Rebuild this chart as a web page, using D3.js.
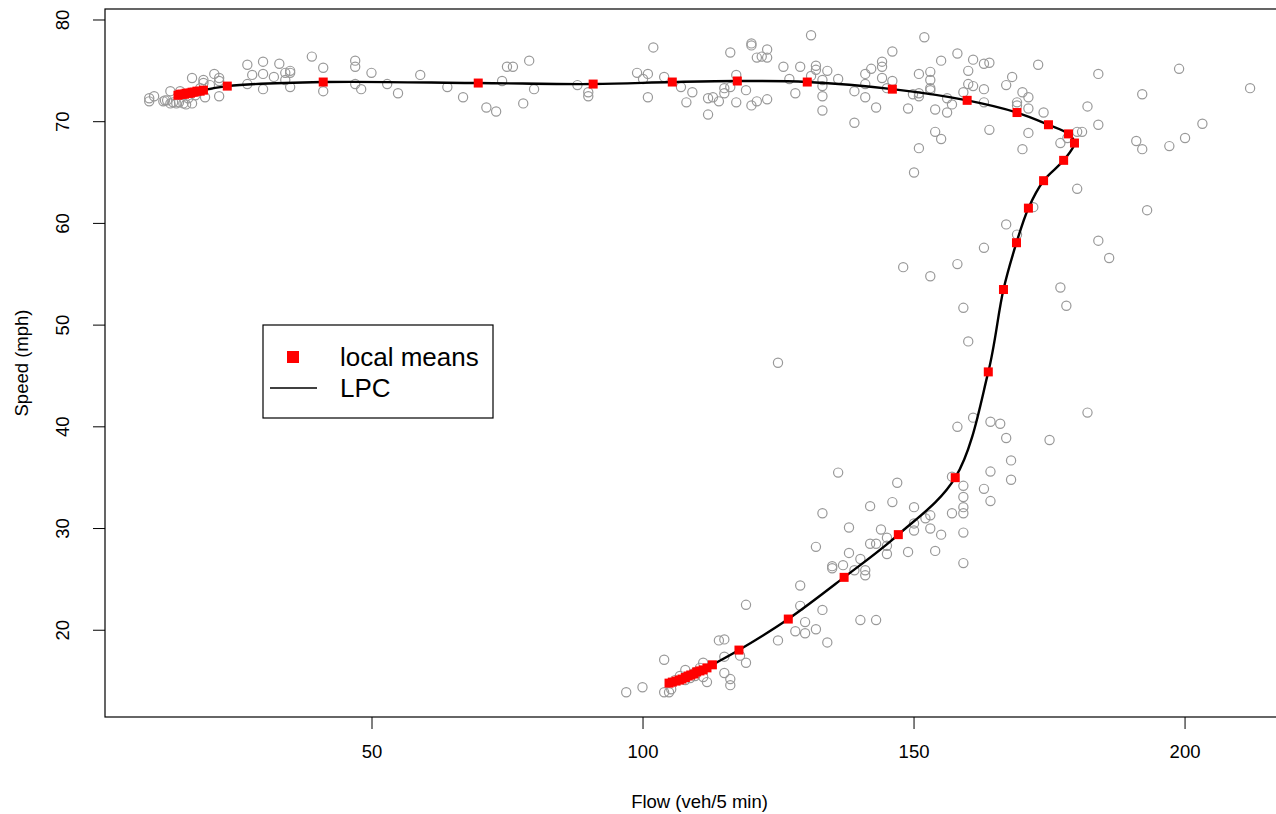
<!DOCTYPE html>
<html>
<head>
<meta charset="utf-8">
<script src="https://cdn.jsdelivr.net/npm/d3@7"></script>
<style>
  body { margin: 0; background: #fff; }
  text { font-family: "Liberation Sans", Arial, sans-serif; fill: #000; }
</style>
</head>
<body>
<div id="chart"></div>
<script>
// observed traffic: flow (veh/5 min) and speed (mph)
var flow = [
  8.9, 8.9, 9.8, 11.8, 12.2, 12.8, 11.5, 12.8, 13.3, 13.9,
  14.4, 15.2, 15.7, 14.6, 16.8, 16.8, 18.9, 18.9, 20.9, 21.8,
  21.8, 21.8, 20.1, 18.3, 17.4, 19.2, 16.1, 27.0, 27.9, 27.0,
  29.9, 29.9, 29.9, 31.9, 32.9, 34.0, 34.9, 34.9, 34.0, 34.9,
  38.9, 41.0, 41.0, 46.9, 46.9, 46.9, 48.0, 49.9, 52.8, 54.8,
  58.9, 63.9, 66.8, 71.1, 72.9, 74.0, 74.9, 76.0, 77.9, 79.0,
  79.9, 87.9, 89.9, 89.9, 98.9, 100.0, 100.9, 100.9, 101.9, 103.9,
  107.0, 109.1, 108.0, 112.0, 112.9, 114.0, 112.0, 115.0, 115.0, 116.1,
  116.1, 117.2, 117.2, 119.0, 120.0, 120.0, 121.0, 121.9, 122.9, 122.9,
  120.0, 121.0, 122.9, 125.9, 127.0, 128.1, 129.0, 131.0, 131.9, 131.9,
  131.0, 133.1, 133.1, 133.1, 133.1, 134.0, 136.0, 139.0, 139.0, 141.0,
  142.1, 141.0, 141.0, 143.0, 144.1, 144.1, 144.1, 146.0, 146.0, 145.0,
  148.9, 149.8, 150.9, 150.9, 150.9, 150.9, 151.9, 153.0, 153.0, 153.0,
  153.0, 153.9, 153.9, 155.0, 155.0, 156.1, 157.0, 156.1, 158.0, 159.1,
  160.0, 160.0, 160.9, 160.9, 162.9, 163.9, 162.9, 162.9, 163.9, 167.0,
  168.1, 169.0, 169.0, 170.0, 171.1, 171.1, 171.1, 170.0, 172.9, 173.9,
  177.0, 178.3, 180.1, 181.0, 182.0, 184.0, 184.0, 192.1, 191.0, 192.1,
  198.9, 203.2, 197.1, 200.0, 212.0, 150.0, 180.1, 193.0, 172.0, 167.0,
  169.0, 162.9, 148.0, 153.0, 158.0, 184.0, 186.0, 177.0, 178.1, 159.1,
  160.0, 124.9, 182.0, 160.9, 158.0, 164.1, 165.9, 167.0, 175.0, 167.9,
  136.0, 146.9, 157.0, 159.1, 164.1, 162.9, 167.9, 164.1, 159.1, 159.1,
  159.1, 157.0, 159.1, 159.1, 153.9, 155.0, 153.0, 152.1, 153.0, 150.0,
  146.0, 141.9, 133.1, 138.0, 150.0, 150.0, 143.9, 145.0, 141.9, 143.0,
  145.0, 145.0, 148.9, 131.9, 138.0, 140.1, 134.9, 134.9, 136.9, 139.0,
  141.0, 141.0, 129.0, 129.0, 133.1, 129.9, 128.1, 129.9, 131.9, 134.0,
  124.9, 140.1, 143.0, 119.0, 114.0, 115.0, 115.0, 117.9, 119.0, 111.1,
  115.0, 116.1, 116.1, 111.8, 111.1, 96.9, 99.9, 103.9, 103.9, 104.8,
  105.2, 107.8, 107.8, 108.7, 109.7, 110.5, 106.8, 105.9, 109.6
];
var speed = [
  72.3, 72.0, 72.5, 72.1, 72.1, 73.0, 72.0, 71.8, 71.9, 71.8,
  71.9, 71.8, 71.7, 73.0, 74.3, 71.8, 74.1, 73.8, 74.7, 74.3,
  74.0, 72.5, 73.6, 73.3, 72.6, 72.4, 72.3, 75.6, 74.6, 73.7,
  75.9, 74.7, 73.2, 74.4, 75.7, 74.8, 75.0, 74.8, 74.1, 73.4,
  76.4, 75.3, 73.0, 76.0, 75.4, 73.7, 73.2, 74.8, 73.7, 72.8,
  74.6, 73.4, 72.4, 71.4, 71.0, 74.0, 75.4, 75.4, 71.8, 76.0,
  73.2, 73.6, 72.9, 72.5, 74.8, 74.2, 74.7, 72.4, 77.3, 74.4,
  73.4, 72.9, 71.9, 72.3, 72.4, 72.0, 70.7, 73.3, 72.8, 73.4,
  76.8, 74.6, 71.9, 73.1, 77.7, 77.5, 76.3, 76.4, 76.3, 77.1,
  71.6, 72.0, 72.2, 75.4, 74.2, 72.8, 75.4, 78.5, 75.5, 75.1,
  74.5, 74.1, 73.5, 72.5, 71.1, 75.0, 74.2, 73.0, 69.9, 74.7,
  75.2, 73.7, 72.4, 71.4, 75.9, 75.4, 74.3, 76.9, 74.0, 73.3,
  71.3, 72.7, 72.5, 72.8, 74.7, 67.4, 78.3, 74.9, 74.1, 73.3,
  73.1, 71.2, 69.0, 68.3, 76.0, 72.3, 71.7, 70.9, 76.7, 72.9,
  75.0, 73.7, 73.5, 76.1, 75.7, 75.8, 73.2, 71.9, 69.2, 73.6,
  74.4, 71.9, 71.6, 72.9, 72.4, 71.3, 68.9, 67.3, 75.6, 70.9,
  67.9, 68.4, 69.0, 69.0, 71.5, 74.7, 69.7, 72.7, 68.1, 67.3,
  75.2, 69.8, 67.6, 68.4, 73.3, 65.0, 63.4, 61.3, 61.6, 59.9,
  58.9, 57.6, 55.7, 54.8, 56.0, 58.3, 56.6, 53.7, 51.9, 51.7,
  48.4, 46.3, 41.4, 40.9, 40.0, 40.5, 40.3, 38.9, 38.7, 36.7,
  35.5, 34.5, 35.1, 34.2, 35.6, 33.9, 34.8, 32.7, 33.1, 32.1,
  31.5, 31.5, 29.6, 26.6, 27.8, 29.4, 30.0, 31.0, 31.3, 32.1,
  32.6, 32.2, 31.5, 30.1, 30.5, 29.8, 29.9, 29.1, 28.5, 28.5,
  28.3, 27.5, 27.7, 28.2, 27.6, 27.0, 26.3, 26.1, 26.4, 25.9,
  25.9, 25.4, 24.4, 22.4, 22.0, 20.8, 19.9, 19.7, 20.1, 18.8,
  19.0, 21.0, 21.0, 22.5, 19.0, 19.1, 17.4, 17.5, 16.8, 16.8,
  15.8, 15.2, 14.6, 14.9, 15.4, 13.9, 14.4, 17.1, 13.9, 13.9,
  14.2, 16.1, 15.1, 15.3, 15.9, 16.3, 15.5, 15.1, 15.5
];

// local means along the principal curve, in curve order
var meanFlow = [
  14.2, 14.6, 15.0, 15.4, 15.7, 16.1, 16.5, 16.8, 17.2, 17.7, 18.3, 18.9,
  23.3, 41.0, 69.6, 90.8, 105.4, 117.4, 130.3, 146.0, 159.8, 169.0,
  174.8, 178.5, 179.6, 177.6, 173.9, 171.1, 168.9, 166.5, 163.7, 157.6,
  147.1, 137.1, 126.8, 117.7, 112.8,
  111.8, 111.1, 110.5, 109.9, 109.4, 108.8, 108.3, 107.8, 107.2, 106.7, 106.1, 105.4, 104.8
];
var meanSpeed = [
  72.6, 72.7, 72.7, 72.7, 72.8, 72.8, 72.8, 72.9, 72.9, 73.0, 73.0, 73.1,
  73.5, 73.9, 73.8, 73.7, 73.9, 74.0, 73.9, 73.2, 72.1, 70.9,
  69.7, 68.8, 67.9, 66.2, 64.2, 61.5, 58.1, 53.5, 45.4, 35.0,
  29.4, 25.2, 21.1, 18.05, 16.6,
  16.3, 16.1, 16.0, 15.9, 15.7, 15.6, 15.5, 15.35, 15.2, 15.1, 15.0, 14.9, 14.8
];

var xTicks = [50, 100, 150, 200];
var yTicks = [20, 30, 40, 50, 60, 70, 80];
var legendLabels = ["local means", "LPC"];

var info = { width: 1276, height: 814 };
var plot = { left: 105, right: 1294, top: 9, bottom: 717 };

var svg = d3.select("#chart").append("svg")
    .attr("width", info.width)
    .attr("height", info.height);

var x = d3.scaleLinear().domain([0.74, 220.1]).range([plot.left, plot.right]);
var y = d3.scaleLinear().domain([11.47, 81.08]).range([plot.bottom, plot.top]);

// points
var pts = d3.range(flow.length);
svg.append("g").selectAll("circle")
    .data(pts)
    .enter().append("circle")
    .attr("cx", function(i) { return x(flow[i]); })
    .attr("cy", function(i) { return y(speed[i]); })
    .attr("r", 4.6)
    .style("fill", "none")
    .style("stroke", "#999999")
    .style("stroke-width", 1.2);

// curve
var curveIdx = d3.range(meanFlow.length);
var line = d3.line()
    .x(function(i) { return x(meanFlow[i]); })
    .y(function(i) { return y(meanSpeed[i]); })
    .curve(d3.curveCatmullRom.alpha(0.5));

svg.append("path")
    .attr("d", line(curveIdx))
    .style("fill", "none")
    .style("stroke", "#000")
    .style("stroke-width", 2.4);

// local means
var sq = 9;
svg.append("g").selectAll("rect")
    .data(curveIdx)
    .enter().append("rect")
    .attr("x", function(i) { return x(meanFlow[i]) - sq / 2; })
    .attr("y", function(i) { return y(meanSpeed[i]) - sq / 2; })
    .attr("width", sq)
    .attr("height", sq)
    .style("fill", "#ff0000");

// box
svg.append("rect")
    .attr("x", plot.left)
    .attr("y", plot.top)
    .attr("width", plot.right - plot.left)
    .attr("height", plot.bottom - plot.top)
    .style("fill", "none")
    .style("stroke", "#000")
    .style("stroke-width", 1.2);

// x axis
var xa = svg.append("g");
xa.selectAll("line")
    .data(xTicks)
    .enter().append("line")
    .attr("x1", function(d) { return x(d); })
    .attr("x2", function(d) { return x(d); })
    .attr("y1", plot.bottom)
    .attr("y2", plot.bottom + 12)
    .style("stroke", "#000");
xa.selectAll("text")
    .data(xTicks)
    .enter().append("text")
    .attr("x", function(d) { return x(d); })
    .attr("y", 758)
    .attr("text-anchor", "middle")
    .style("font-size", "18.5px")
    .text(String);

// y axis
var ya = svg.append("g");
ya.selectAll("line")
    .data(yTicks)
    .enter().append("line")
    .attr("x1", plot.left - 12)
    .attr("x2", plot.left)
    .attr("y1", function(d) { return y(d); })
    .attr("y2", function(d) { return y(d); })
    .style("stroke", "#000");
ya.selectAll("text")
    .data(yTicks)
    .enter().append("text")
    .attr("transform", function(d) { return "translate(69," + y(d) + ")rotate(-90)"; })
    .attr("text-anchor", "middle")
    .style("font-size", "18.5px")
    .text(String);

// axis titles
svg.append("text")
    .attr("x", (plot.left + plot.right) / 2)
    .attr("y", 808)
    .attr("text-anchor", "middle")
    .style("font-size", "18.5px")
    .text("Flow (veh/5 min)");

svg.append("text")
    .attr("transform", "translate(28," + (plot.top + plot.bottom) / 2 + ")rotate(-90)")
    .attr("text-anchor", "middle")
    .style("font-size", "18.5px")
    .text("Speed (mph)");

// legend
var lg = svg.append("g").attr("transform", "translate(263,325)");
lg.append("rect")
    .attr("width", 230)
    .attr("height", 93)
    .style("fill", "#fff")
    .style("stroke", "#000")
    .style("stroke-width", 1.2);
lg.append("rect")
    .attr("x", 24).attr("y", 26)
    .attr("width", 12).attr("height", 12)
    .style("fill", "#ff0000");
lg.append("line")
    .attr("x1", 7).attr("x2", 54)
    .attr("y1", 63).attr("y2", 63)
    .style("stroke", "#000")
    .style("stroke-width", 1.3);
lg.selectAll("text")
    .data(legendLabels)
    .enter().append("text")
    .attr("x", 77)
    .attr("y", function(d, i) { return 41 + i * 31; })
    .style("font-size", "26px")
    .text(String);
</script>
</body>
</html>
